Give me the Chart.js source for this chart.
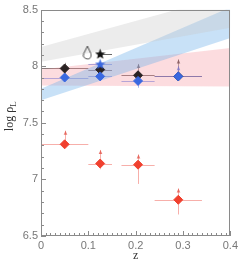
<!DOCTYPE html>
<html>
<head>
<meta charset="utf-8">
<script src="https://cdn.jsdelivr.net/npm/chart.js@4"></script>
<style>
  html, body { margin: 0; padding: 0; background: #fff; }
  #wrap { width: 241px; height: 265px; }
</style>
</head>
<body>
<div id="wrap"><canvas id="chart" width="241" height="265"></canvas></div>
<script>
// Tick values on the axes.
var xTicks = [0, 0.1, 0.2, 0.3, 0.4];
var yTicks = [6.5, 7, 7.5, 8, 8.5];

// Bin centres shared by the diamond series.
var zBins = [0.05, 0.125, 0.205, 0.29];
var zLo = [0.0, 0.1, 0.17, 0.24];
var zHi = [0.1, 0.15, 0.24, 0.34];

// Red diamonds (lower points) with limit arrows.
var redY = [7.31, 7.14, 7.13, 6.82];
var redLo = [7.28, 7.09, 6.96, 6.69];
var redArrow = [7.43, 7.26, 7.22, 6.92];

// Black diamonds.
var blackY = [7.98, 7.97, 7.92, 7.91];
var blackLo = [7.93, 7.93, 7.90, 7.89];
var blackHi = [8.03, 8.01, 7.94, 7.93];
var blackArrow = [null, null, 8.02, 8.06];

// Blue diamonds.
var blueY = [7.90, 7.91, 7.87, 7.91];
var blueLo = [7.87, 7.88, 7.81, 7.88];
var blueHi = [7.93, 7.94, 7.90, 7.94];
var blueArrow = [null, null, 7.96, 8.00];

// Single markers.
var blackStar = {x: 0.125, y: 8.11, xLo: 0.125, xHi: 0.15};
var blueStar = {x: 0.125, y: 8.02, xLo: 0.1, xHi: 0.15};
var openDrop = {x: 0.098, y: 8.12};

// Shaded bands: values at z = 0 and z = 0.4.
var bandZ = [0, 0.4];
var grayLower = [8.04, 8.34];
var grayUpper = [8.17, 8.63];
var blueLower = [7.70, 8.25];
var blueUpper = [7.80, 8.52];
var pinkLower = [7.83, 7.82];
var pinkUpper = [7.97, 8.16];

var RED = "#f0402e";
var BLACK = "#2a2222";
var BLUE = "#3a68e0";

function pts(xs, ys) {
    return xs.map(function (x, i) { return {x: x, y: ys[i]}; });
}

// Filled five-point star drawn on a small canvas for use as a point style.
function makeStar(color, size) {
    var c = document.createElement("canvas");
    c.width = size; c.height = size;
    var g = c.getContext("2d");
    var cx = size / 2, cy = size / 2 + 0.6, R = size / 2, r = R * 0.42;
    g.beginPath();
    for (var i = 0; i < 10; i++) {
        var a = -Math.PI / 2 + i * Math.PI / 5;
        var rr = i % 2 === 0 ? R : r;
        g.lineTo(cx + rr * Math.cos(a), cy + rr * Math.sin(a));
    }
    g.closePath();
    g.fillStyle = color;
    g.fill();
    return c;
}

// Open teardrop marker.
function makeDrop() {
    var c = document.createElement("canvas");
    c.width = 10; c.height = 15;
    var g = c.getContext("2d");
    g.beginPath();
    g.moveTo(5, 1);
    g.lineTo(1.3, 8.5);
    g.arc(5, 10, 3.8, Math.PI * 1.1, Math.PI * 1.9, true);
    g.closePath();
    g.strokeStyle = "#444";
    g.lineWidth = 1;
    g.stroke();
    return c;
}

function band(lower, upper, color) {
    return [{
        type: "line", data: pts(bandZ, lower), borderWidth: 0,
        pointRadius: 0, fill: false, order: 10
    }, {
        type: "line", data: pts(bandZ, upper), borderWidth: 0,
        pointRadius: 0, fill: "-1", backgroundColor: color, order: 10
    }];
}

function fmt(v) {
    return String(Math.round(v * 100) / 100);
}

// Error bars, limit arrows, inner tick marks and axis titles.
var decorPlugin = {
    id: "decor",
    beforeDatasetsDraw: function (chart) {
        var ctx = chart.ctx;
        var xs = chart.scales.x, ys = chart.scales.y;
        var X = function (v) { return xs.getPixelForValue(v); };
        var Y = function (v) { return ys.getPixelForValue(v); };
        ctx.save();
        ctx.beginPath();
        ctx.rect(chart.chartArea.left, chart.chartArea.top,
            chart.chartArea.right - chart.chartArea.left,
            chart.chartArea.bottom - chart.chartArea.top);
        ctx.clip();
        ctx.lineWidth = 1;

        function hline(x0, x1, y, col) {
            ctx.strokeStyle = col;
            ctx.beginPath();
            ctx.moveTo(X(x0), Math.round(Y(y)) + 0.5);
            ctx.lineTo(X(x1), Math.round(Y(y)) + 0.5);
            ctx.stroke();
        }
        function vline(x, y0, y1, col) {
            ctx.strokeStyle = col;
            ctx.beginPath();
            ctx.moveTo(Math.round(X(x)) + 0.5, Y(y0));
            ctx.lineTo(Math.round(X(x)) + 0.5, Y(y1));
            ctx.stroke();
        }
        function arrow(x, y, col) {
            var px = Math.round(X(x)) + 0.5, py = Y(y);
            ctx.fillStyle = col;
            ctx.beginPath();
            ctx.moveTo(px - 1.8, py + 4);
            ctx.lineTo(px, py);
            ctx.lineTo(px + 1.8, py + 4);
            ctx.closePath();
            ctx.fill();
        }

        zBins.forEach(function (z, i) {
            // red
            hline(zLo[i], zHi[i], redY[i], "rgba(240,110,100,0.55)");
            vline(z, redLo[i], redArrow[i], "rgba(240,110,100,0.55)");
            arrow(z, redArrow[i], "rgba(225,80,70,0.75)");
            // black
            hline(zLo[i], zHi[i], blackY[i], "rgba(70,50,50,0.65)");
            vline(z, blackLo[i], blackArrow[i] || blackHi[i], "rgba(70,50,50,0.5)");
            if (blackArrow[i]) arrow(z, blackArrow[i], "rgba(70,50,50,0.7)");
            // blue
            hline(zLo[i], zHi[i], blueY[i], "rgba(70,110,230,0.55)");
            vline(z, blueLo[i], blueArrow[i] || blueHi[i], "rgba(70,110,230,0.5)");
            if (blueArrow[i]) arrow(z, blueArrow[i], "rgba(70,110,230,0.7)");
        });
        hline(blackStar.xLo, blackStar.xHi, blackStar.y, "rgba(40,40,40,0.7)");
        hline(blueStar.xLo, blueStar.xHi, blueStar.y, "rgba(70,110,230,0.6)");
        ctx.restore();
    },
    afterDraw: function (chart) {
        var ctx = chart.ctx;
        var a = chart.chartArea;
        var xs = chart.scales.x, ys = chart.scales.y;
        ctx.save();
        ctx.strokeStyle = "#8a8a8a";
        ctx.lineWidth = 1;
        ctx.strokeRect(Math.round(a.left) + 0.5, Math.round(a.top) + 0.5,
            Math.round(a.right - a.left) - 1, Math.round(a.bottom - a.top) - 1);
        ctx.beginPath();
        var v, p, len;
        for (var k = 0; k <= 20; k++) {
            v = 6.5 + k * 0.1;
            p = Math.round(ys.getPixelForValue(v)) + 0.5;
            len = k % 5 === 0 ? 5 : 3;
            ctx.moveTo(a.left, p);
            ctx.lineTo(a.left + len, p);
        }
        for (k = 0; k <= 40; k++) {
            v = k * 0.01;
            p = Math.round(xs.getPixelForValue(v)) + 0.5;
            len = k % 10 === 0 ? 5 : 3;
            ctx.moveTo(p, a.bottom);
            ctx.lineTo(p, a.bottom - len);
        }
        ctx.stroke();

        // axis titles
        ctx.fillStyle = "#333";
        ctx.font = "12px 'Liberation Serif'";
        ctx.textAlign = "center";
        ctx.textBaseline = "alphabetic";
        ctx.fillText("z", (a.left + a.right) / 2, 259);

        ctx.translate(13, 116);
        ctx.rotate(-Math.PI / 2);
        ctx.textAlign = "left";
        var main = "log \u03c1";
        var w = ctx.measureText(main).width;
        ctx.fillText(main, -w / 2 - 3, 0);
        ctx.font = "9px 'Liberation Serif'";
        ctx.fillText("L", w / 2 - 3, 3);
        ctx.restore();
    }
};

var datasets = []
    .concat(band(grayLower, grayUpper, "rgba(200,200,200,0.35)"))
    .concat(band(blueLower, blueUpper, "rgba(110,175,235,0.38)"))
    .concat(band(pinkLower, pinkUpper, "rgba(245,140,150,0.30)"))
    .concat([{
        type: "scatter", data: pts(zBins, redY), pointStyle: "rectRot",
        pointRadius: 4.5, backgroundColor: RED, borderColor: RED, borderWidth: 1, order: 1
    }, {
        type: "scatter", data: pts(zBins, blackY), pointStyle: "rectRot",
        pointRadius: 4.5, backgroundColor: BLACK, borderColor: BLACK, borderWidth: 1, order: 2
    }, {
        type: "scatter", data: pts(zBins, blueY), pointStyle: "rectRot",
        pointRadius: 4.5, backgroundColor: BLUE, borderColor: BLUE, borderWidth: 1, order: 1
    }, {
        type: "scatter", data: [{x: blueStar.x, y: blueStar.y}],
        pointStyle: makeStar(BLUE, 11), order: 1
    }, {
        type: "scatter", data: [{x: blackStar.x, y: blackStar.y}],
        pointStyle: makeStar("#111", 11), order: 1
    }, {
        type: "scatter", data: [{x: openDrop.x, y: openDrop.y}],
        pointStyle: makeDrop(), order: 1
    }]);

new Chart(document.getElementById("chart"), {
    type: "scatter",
    data: {datasets: datasets},
    plugins: [decorPlugin],
    options: {
        responsive: false,
        animation: false,
        layout: {padding: {top: 4, right: 6, left: 0, bottom: 0}},
        plugins: {legend: {display: false}, tooltip: {enabled: false}},
        scales: {
            x: {
                type: "linear", min: 0, max: 0.4,
                afterBuildTicks: function (s) { s.ticks = xTicks.map(function (v) { return {value: v}; }); },
                afterFit: function (s) { s.height = 29; },
                grid: {display: false, drawTicks: false},
                border: {display: false},
                ticks: {color: "#777", padding: 3, callback: fmt,
                    font: {family: "Liberation Sans", size: 11}}
            },
            y: {
                type: "linear", min: 6.5, max: 8.5,
                afterBuildTicks: function (s) { s.ticks = yTicks.map(function (v) { return {value: v}; }); },
                afterFit: function (s) { s.width = 41; },
                grid: {display: false, drawTicks: false},
                border: {display: false},
                ticks: {color: "#777", padding: 3, callback: fmt,
                    font: {family: "Liberation Sans", size: 11}}
            }
        }
    }
});
</script>
</body>
</html>
